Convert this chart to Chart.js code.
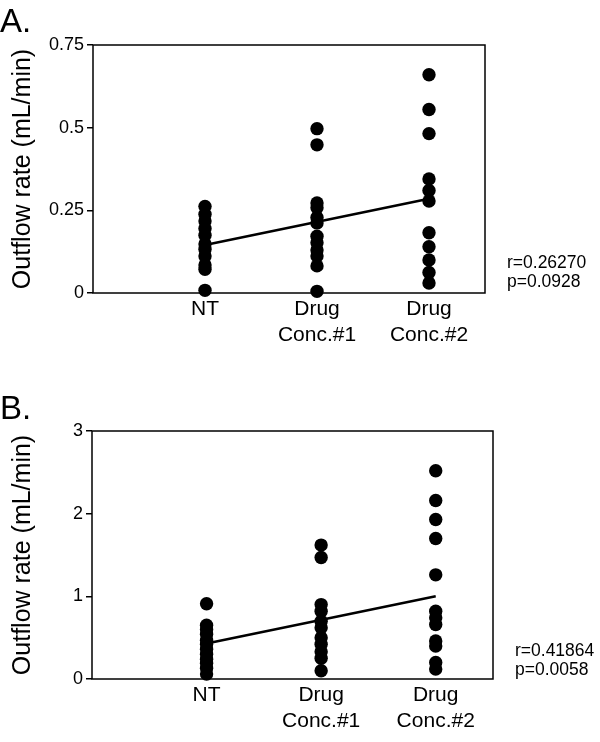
<!DOCTYPE html>
<html>
<head>
<meta charset="utf-8">
<script src="https://cdn.jsdelivr.net/npm/chart.js@4.4.1/dist/chart.umd.min.js"></script>
<style>
  html, body { margin: 0; padding: 0; background: #fff; }
  body { width: 600px; height: 742px; position: relative; overflow: hidden; font-family: "Liberation Sans", Arial, sans-serif; color: #000; }
  .wrap { position: absolute; left: 0; width: 600px; height: 371px; }
  .tag { position: absolute; font-size: 33px; line-height: 1; }
  .stat { position: absolute; font-size: 17.5px; line-height: 19px; }
</style>
</head>
<body>
<div class="wrap" style="top:0"><canvas id="chartA"></canvas></div>
<div class="wrap" style="top:371px"><canvas id="chartB"></canvas></div>
<div class="tag" style="left:0;top:4px">A.</div>
<div class="tag" style="left:0;top:391px">B.</div>
<div class="stat" style="left:507px;top:253px">r=0.26270<br>p=0.0928</div>
<div class="stat" style="left:515px;top:641px">r=0.41864<br>p=0.0058</div>
<script>
// categories sit at x = 1, 2, 3 on a 0..3.5 linear axis
const categories = ["NT", ["Drug", "Conc.#1"], ["Drug", "Conc.#2"]];

// panel A (mL/min)
const ntA = [0.262, 0.238, 0.218, 0.195, 0.175, 0.148, 0.132, 0.112, 0.085, 0.072, 0.008];
const drug1A = [0.497, 0.448, 0.272, 0.258, 0.228, 0.212, 0.172, 0.152, 0.13, 0.112, 0.082, 0.005];
const drug2A = [0.66, 0.555, 0.482, 0.345, 0.31, 0.278, 0.182, 0.14, 0.1, 0.062, 0.03];
const fitA = [0.145, 0.285];
const ticksA = [0, 0.25, 0.5, 0.75];

// panel B (mL/min)
const ntB = [0.91, 0.65, 0.6, 0.54, 0.47, 0.42, 0.36, 0.3, 0.24, 0.19, 0.13, 0.06];
const drug1B = [1.62, 1.47, 0.9, 0.82, 0.7, 0.62, 0.5, 0.42, 0.33, 0.25, 0.1];
const drug2B = [2.52, 2.16, 1.93, 1.7, 1.26, 0.82, 0.74, 0.66, 0.46, 0.4, 0.2, 0.12];
const fitB = [0.43, 1.0];
const ticksB = [0, 1, 2, 3];

const FONT = "'Liberation Sans', Arial, sans-serif";

// box round the plot area
const frame = {
  id: "frame",
  beforeDatasetsDraw(chart) {
    const { ctx, chartArea: a } = chart;
    ctx.save();
    ctx.strokeStyle = "#000";
    ctx.lineWidth = 1.5;
    ctx.strokeRect(a.left, a.top, a.right - a.left, a.bottom - a.top);
    ctx.restore();
  }
};

function makePanel(id, groups, fit, yTicks, box) {
  const cv = document.getElementById(id);
  cv.width = 600;
  cv.height = 371;
  const scatter = groups.flatMap((vals, i) => vals.map(v => ({ x: i + 1, y: v })));
  new Chart(cv, {
    type: "scatter",
    data: {
      datasets: [
        {
          data: [{ x: 1, y: fit[0] }, { x: 3, y: fit[1] }],
          type: "line",
          borderColor: "#000",
          borderWidth: 2.5,
          pointRadius: 0,
          clip: false
        },
        {
          data: scatter,
          backgroundColor: "#000",
          borderWidth: 0,
          pointRadius: 6.7,
          clip: false
        }
      ]
    },
    options: {
      responsive: false,
      animation: false,
      devicePixelRatio: 1,
      layout: { padding: { left: 0, top: box.top, right: box.right, bottom: 0 } },
      plugins: { legend: { display: false }, tooltip: { enabled: false } },
      scales: {
        x: {
          type: "linear",
          min: 0,
          max: 3.5,
          afterBuildTicks: s => { s.ticks = categories.map((c, i) => ({ value: i + 1 })); },
          afterFit: s => { s.height = box.xh; },
          ticks: {
            color: "#000",
            font: { family: FONT, size: 21, lineHeight: 1.2 },
            padding: 4,
            callback: v => categories[v - 1]
          },
          grid: { display: false, drawTicks: false },
          border: { display: false }
        },
        y: {
          min: yTicks[0],
          max: yTicks[yTicks.length - 1],
          afterBuildTicks: s => { s.ticks = yTicks.map(v => ({ value: v })); },
          afterFit: s => { s.width = box.left; },
          ticks: {
            color: "#000",
            font: { family: FONT, size: 18 },
            padding: 3,
            callback: v => String(v)
          },
          grid: { drawOnChartArea: false, drawTicks: true, tickLength: 6, color: "#000", lineWidth: 1.5 },
          border: { display: false },
          title: {
            display: true,
            text: "Outflow rate (mL/min)",
            color: "#000",
            font: { family: FONT, size: 25 },
            padding: { top: 8, bottom: 0 }
          }
        }
      }
    },
    plugins: [frame]
  });
}

makePanel("chartA", [ntA, drug1A, drug2A], fitA, ticksA, { left: 93, top: 45, right: 115, xh: 78 });
makePanel("chartB", [ntB, drug1B, drug2B], fitB, ticksB, { left: 92, top: 60, right: 107, xh: 63 });
</script>
</body>
</html>
